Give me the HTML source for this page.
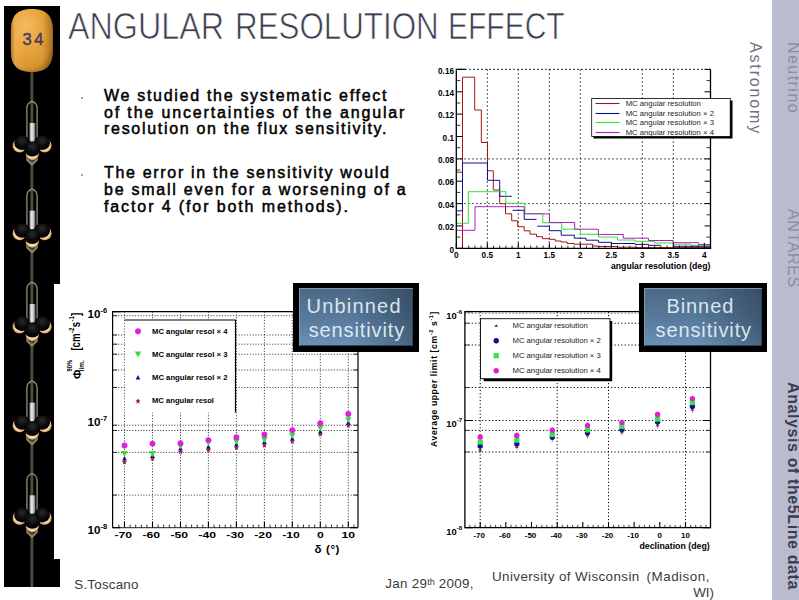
<!DOCTYPE html>
<html>
<head>
<meta charset="utf-8">
<title>Angular Resolution Effect</title>
<style>
html,body{margin:0;padding:0;background:#fff;}
body{width:799px;height:600px;position:relative;overflow:hidden;font-family:"Liberation Sans",sans-serif;}
.abs{position:absolute;}
.tw{-webkit-text-stroke:0.7px #fff;top:5.1px;font-size:36.2px;color:#3d3d50;white-space:nowrap;line-height:44px;transform-origin:0 0;}
.bul{left:104px;font-weight:normal;-webkit-text-stroke:0.5px #000;font-size:16px;line-height:17px;color:#000;white-space:nowrap;}
.dot{width:2px;height:2px;background:#888;border-radius:1px;}
.foot{font-size:13.4px;line-height:15.4px;color:#3a3a3a;white-space:nowrap;}
.vtxt{transform-origin:0 0;transform:rotate(90deg);white-space:nowrap;font-size:16px;line-height:16px;}
svg text{font-family:"Liberation Sans",sans-serif;}
.tl{font-size:8.2px;font-weight:bold;fill:#000;}
.lg{font-size:7.7px;fill:#1a1a1a;}
.lb{font-size:7px;font-weight:bold;fill:#000;}
.tb{font-size:8.6px;font-weight:bold;fill:#000;}
.tc{font-size:8px;font-weight:bold;fill:#000;}
.bx{background:#000;}
.bxi{background:linear-gradient(to right,rgba(20,30,45,0) 0%,rgba(20,30,45,0) 45%,rgba(20,30,45,0.38) 100%),linear-gradient(to bottom,#4d6a86 0%,#57799b 50%,#6a91b5 100%);box-shadow:inset 1px 1px 0 #7d95ab,inset -1px -1px 0 #2f4458;}
.bxt{color:rgba(236,247,252,0.9);font-size:20px;line-height:24.2px;text-align:left;white-space:nowrap;}
</style>
</head>
<body>
<!-- right sidebar -->
<div class="abs" style="left:772px;top:0;width:27px;height:600px;background:#b9bcd0;"></div>
<div class="abs vtxt" style="left:763.2px;top:41.5px;color:#70707f;letter-spacing:1.85px;">Astronomy</div>
<div class="abs vtxt" style="left:801.2px;top:42px;color:#8b8da1;letter-spacing:1.45px;">Neutrino</div>
<div class="abs vtxt" style="left:801.2px;top:208.5px;color:#8b8da1;letter-spacing:0.65px;">ANTARES</div>
<div class="abs vtxt" style="left:801.2px;top:382px;color:#3c3c50;font-weight:bold;letter-spacing:0.6px;">Analysis of the5Line data</div>

<!-- left black bar -->
<div class="abs" style="left:4px;top:6px;width:56px;height:278px;background:#000;"></div>
<div class="abs" style="left:4px;top:283px;width:50px;height:280px;background:#000;"></div>
<div class="abs" style="left:4px;top:559px;width:56px;height:28px;background:#000;"></div>
<svg class="abs" id="line" style="left:0;top:0;" width="64" height="600" viewBox="0 0 64 600">
<defs>
<radialGradient id="bg" cx="0.42" cy="0.36" r="0.75" fx="0.36" fy="0.24">
<stop offset="0" stop-color="#f3bb5e"/><stop offset="0.45" stop-color="#e9a63e"/><stop offset="0.8" stop-color="#d8942f"/><stop offset="1" stop-color="#8f5f18"/>
</radialGradient>
<linearGradient id="bh" x1="0" x2="1" y1="0" y2="0"><stop offset="0" stop-color="#7a4e10" stop-opacity="0.45"/><stop offset="0.1" stop-color="#f6c268" stop-opacity="0.35"/><stop offset="0.35" stop-color="#f6c268" stop-opacity="0"/><stop offset="0.75" stop-color="#a06a18" stop-opacity="0"/><stop offset="1" stop-color="#7a4e10" stop-opacity="0.55"/></linearGradient>
<linearGradient id="cy" x1="0" x2="1" y1="0" y2="0"><stop offset="0" stop-color="#7c7c7c"/><stop offset="0.4" stop-color="#f2f2f2"/><stop offset="0.7" stop-color="#bdbdbd"/><stop offset="1" stop-color="#6a6a6a"/></linearGradient>
<linearGradient id="rp" x1="0" x2="1" y1="0" y2="0"><stop offset="0" stop-color="#3a3528"/><stop offset="0.5" stop-color="#5e5746"/><stop offset="1" stop-color="#3a3528"/></linearGradient>
<radialGradient id="cr" cx="0.5" cy="0.5" r="0.5"><stop offset="0.62" stop-color="#f3e2b8"/><stop offset="0.9" stop-color="#dcae68"/><stop offset="1" stop-color="#6a4414"/></radialGradient>
<radialGradient id="sp" cx="0.5" cy="0.35" r="0.6"><stop offset="0" stop-color="#2a2a2a"/><stop offset="0.6" stop-color="#0c0c0c"/><stop offset="1" stop-color="#000"/></radialGradient>
<g id="st">
<path d="M32 101.2C29 102.5 26.9 104.5 26.9 108V160L32 165L37.1 160V108C37.1 104.5 35 102.5 32 101.2z" fill="none" stroke="#918c7c" stroke-width="1.3" stroke-linejoin="round"/>
<rect x="29.4" y="123" width="5.9" height="19.5" fill="url(#cy)"/>
<circle cx="19.6" cy="145.5" r="7.2" fill="url(#cr)"/><ellipse cx="22.2" cy="142.8" rx="8" ry="7.3" fill="url(#sp)"/>
<circle cx="44.6" cy="145.5" r="7.2" fill="url(#cr)"/><ellipse cx="42" cy="142.8" rx="8" ry="7.3" fill="url(#sp)"/>
<circle cx="32.3" cy="153.4" r="6.8" fill="url(#cr)"/><ellipse cx="32.3" cy="148.8" rx="8" ry="7.6" fill="url(#sp)"/>
<path d="M27.5 159L32 164.5L36.5 159" fill="none" stroke="#8b8676" stroke-width="1.2"/>
</g>
</defs>
<rect x="30.3" y="70" width="3.2" height="517" fill="url(#rp)"/>
<path d="M10.9 31C10.9 15.5 17.5 9 31.8 9C46.2 9 52.8 15.5 52.8 31V51C52.8 65.5 46.2 72.1 31.8 72.1C17.5 72.1 10.9 65.5 10.9 51Z" fill="url(#bg)"/>
<path d="M10.9 31C10.9 15.5 17.5 9 31.8 9C46.2 9 52.8 15.5 52.8 31V51C52.8 65.5 46.2 72.1 31.8 72.1C17.5 72.1 10.9 65.5 10.9 51Z" fill="url(#bh)"/>
<text x="34.2" y="44.8" text-anchor="middle" style="font:16.5px 'Liberation Sans',sans-serif;letter-spacing:2.6px" fill="#493a5a" stroke="#493a5a" stroke-width="0.45">34</text>
<use href="#st" y="0"/>
<use href="#st" y="87.7"/>
<use href="#st" y="181"/>
<use href="#st" y="279.7"/>
<use href="#st" y="372.3"/>
</svg>

<!-- title -->
<div class="abs tw" style="left:68.1px;transform:scaleX(0.892);">ANGULAR</div>
<div class="abs tw" style="left:235.4px;transform:scaleX(0.866);">RESOLUTION</div>
<div class="abs tw" style="left:448.2px;transform:scaleX(0.829);">EFFECT</div>

<!-- bullets -->
<div class="abs dot" style="left:81px;top:97px;"></div>
<div class="abs bul" style="top:86.7px;letter-spacing:1.70px;">We studied the systematic effect</div>
<div class="abs bul" style="top:103.7px;letter-spacing:1.85px;">of the uncertainties of the angular</div>
<div class="abs bul" style="top:120.2px;letter-spacing:1.70px;">resolution on the flux sensitivity.</div>
<div class="abs dot" style="left:81px;top:174px;"></div>
<div class="abs bul" style="top:163.7px;letter-spacing:1.68px;">The error in the sensitivity would</div>
<div class="abs bul" style="top:180.7px;letter-spacing:1.76px;">be small even for a worsening of a</div>
<div class="abs bul" style="top:197.7px;letter-spacing:1.89px;">factor 4 (for both methods).</div>

<!-- charts -->
<svg class="abs" id="c1" style="left:420px;top:55px;" width="320" height="230" viewBox="420 55 320 230">
<rect x="456.3" y="69.4" width="254.2" height="178.9" fill="#fff" stroke="none"/>
<line x1="487.3" y1="69.4" x2="487.3" y2="248.3" stroke="#000" stroke-width="1" stroke-dasharray="1.3 2.7"/>
<line x1="518.3" y1="69.4" x2="518.3" y2="248.3" stroke="#000" stroke-width="1" stroke-dasharray="1.3 2.7"/>
<line x1="549.3" y1="69.4" x2="549.3" y2="248.3" stroke="#000" stroke-width="1" stroke-dasharray="1.3 2.7"/>
<line x1="580.3" y1="69.4" x2="580.3" y2="248.3" stroke="#000" stroke-width="1" stroke-dasharray="1.3 2.7"/>
<line x1="642.3" y1="69.4" x2="642.3" y2="248.3" stroke="#000" stroke-width="1" stroke-dasharray="1.3 2.7"/>
<line x1="673.3" y1="69.4" x2="673.3" y2="248.3" stroke="#000" stroke-width="1" stroke-dasharray="1.3 2.7"/>
<line x1="456.3" y1="203.6" x2="710.5" y2="203.6" stroke="#000" stroke-width="1" stroke-dasharray="1.3 2.7"/>
<line x1="456.3" y1="158.9" x2="710.5" y2="158.9" stroke="#000" stroke-width="1" stroke-dasharray="1.3 2.7"/>
<path d="M456.3 172.2 L462.5 172.2 L462.5 77.2 L474.7 77.2 L474.7 110.0 L481.3 110.0 L481.3 142.5 L487.5 142.5 L487.5 170.8 L493.3 170.8 L493.3 190.0 L499.7 190.0 L499.7 203.7 L505.5 203.7 L505.5 213.8 L511.7 213.8 L511.7 220.8 L517.8 220.8 L517.8 226.7 L524.2 226.7 L524.2 230.8 L530.0 230.8 L530.0 234.2 L536.5 234.2 L536.5 236.7 L542.5 236.7 L542.5 238.7 L549.2 238.7 L549.2 239.3 L555.2 239.3 L555.2 241.0 L561.2 241.0 L561.2 242.0 L567.2 242.0 L567.2 243.5 L574.3 243.5 L574.3 244.2 L592.7 244.2 L592.7 246.0 L598.0 246.0 L598.0 246.5 L617.5 246.5 L617.5 247.2 L635.0 247.2 L635.0 247.6 L710.4 247.6" fill="none" stroke="#a01818" stroke-width="1.0" />
<path d="M462.5 172.2 L462.5 248.3" fill="none" stroke="#a01818" stroke-width="1.0" />
<path d="M456.3 210.8 L462.5 210.8 L462.5 163.0 L487.5 163.0 L487.5 180.3 L499.7 180.3 L499.7 196.3 L511.7 196.3" fill="none" stroke="#101090" stroke-width="1.0" />
<path d="M512.5 210.3 L524.2 210.3 L524.2 219.4 L536.5 219.4" fill="none" stroke="#101090" stroke-width="1.0" />
<path d="M537.2 226.2 L549.5 226.2 L549.5 230.7 L561.2 230.7 L561.2 235.2 L574.3 235.2 L574.3 238.2 L586.0 238.2 L586.0 240.2 L598.4 240.2 L598.4 242.3 L611.5 242.3 L611.5 243.5 L635.0 243.5 L635.0 244.4 L648.5 244.4 L648.5 245.3 L660.5 245.3" fill="none" stroke="#101090" stroke-width="1.0" />
<path d="M673.2 246.3 L710.4 246.3" fill="none" stroke="#101090" stroke-width="1.0" />
<path d="M456.3 223.3 L468.3 223.3 L468.3 191.7 L505.8 191.7 L505.8 203.3 L525.0 203.3 L525.0 213.5 L542.8 213.5 L542.8 222.8 L561.7 222.8 L561.7 229.2 L580.4 229.2 L580.4 234.2 L598.4 234.2 L598.4 237.0 L617.5 237.0 L617.5 240.0 L635.0 240.0 L635.0 241.3 L654.5 241.3 L654.5 243.0 L673.2 243.0 L673.2 244.2 L690.5 244.2 L690.5 245.3 L710.4 245.3" fill="none" stroke="#30e030" stroke-width="1.0" />
<path d="M456.3 230.3 L475.0 230.3 L475.0 206.7 L524.2 206.7 L524.2 213.9 L549.5 213.9 L549.5 222.5 L574.7 222.5 L574.7 229.2 L598.4 229.2 L598.4 234.5 L623.3 234.5 L623.3 238.2 L648.5 238.2 L648.5 240.5 L673.2 240.5 L673.2 242.7 L698.7 242.7 L698.7 244.5 L710.4 244.5" fill="none" stroke="#b020c0" stroke-width="1.0" />
<path d="M465.3 69.4H456.3V248.3H710.5V69.4" fill="none" stroke="#000" stroke-width="1.3"/>
<path d="M465.3 69.4H710.5" fill="none" stroke="#000" stroke-width="1.2" stroke-dasharray="1.3 2.7"/>
<path d="M456.3 248.3v-5.5M487.3 248.3v-5.5M518.3 248.3v-5.5M549.3 248.3v-5.5M580.3 248.3v-5.5M611.3 248.3v-5.5M642.3 248.3v-5.5M673.3 248.3v-5.5M704.3 248.3v-5.5M456.3 248.3h6M710.5 248.3h-6M456.3 225.9h6M710.5 225.9h-6M456.3 203.6h6M710.5 203.6h-6M456.3 181.2h6M710.5 181.2h-6M456.3 158.9h6M710.5 158.9h-6M456.3 136.5h6M710.5 136.5h-6M456.3 114.1h6M710.5 114.1h-6M456.3 91.8h6M710.5 91.8h-6M456.3 69.4h6M710.5 69.4h-6" stroke="#000" stroke-width="1" fill="none"/>
<path d="M462.5 248.3v-2.8M468.7 248.3v-2.8M474.9 248.3v-2.8M481.1 248.3v-2.8M493.5 248.3v-2.8M499.7 248.3v-2.8M505.9 248.3v-2.8M512.1 248.3v-2.8M524.5 248.3v-2.8M530.7 248.3v-2.8M536.9 248.3v-2.8M543.1 248.3v-2.8M555.5 248.3v-2.8M561.7 248.3v-2.8M567.9 248.3v-2.8M574.1 248.3v-2.8M586.5 248.3v-2.8M592.7 248.3v-2.8M598.9 248.3v-2.8M605.1 248.3v-2.8M617.5 248.3v-2.8M623.7 248.3v-2.8M629.9 248.3v-2.8M636.1 248.3v-2.8M648.5 248.3v-2.8M654.7 248.3v-2.8M660.9 248.3v-2.8M667.1 248.3v-2.8M679.5 248.3v-2.8M685.7 248.3v-2.8M691.9 248.3v-2.8M698.1 248.3v-2.8M710.5 248.3v-2.8M456.3 237.1h4M710.5 237.1h-4M456.3 214.8h4M710.5 214.8h-4M456.3 192.4h4M710.5 192.4h-4M456.3 170h4M710.5 170h-4M456.3 147.7h4M710.5 147.7h-4M456.3 125.3h4M710.5 125.3h-4M456.3 103h4M710.5 103h-4M456.3 80.6h4M710.5 80.6h-4" stroke="#000" stroke-width="1" fill="none" opacity="0.8"/>
<text x="454" y="73.6" text-anchor="end" class="tl">0.16</text>
<text x="454" y="96.0" text-anchor="end" class="tl">0.14</text>
<text x="454" y="118.3" text-anchor="end" class="tl">0.12</text>
<text x="454" y="140.7" text-anchor="end" class="tl">0.1</text>
<text x="454" y="163.1" text-anchor="end" class="tl">0.08</text>
<text x="454" y="185.4" text-anchor="end" class="tl">0.06</text>
<text x="454" y="207.8" text-anchor="end" class="tl">0.04</text>
<text x="454" y="230.1" text-anchor="end" class="tl">0.02</text>
<text x="454" y="252.5" text-anchor="end" class="tl">0</text>
<text x="456.3" y="258.1" text-anchor="middle" class="tl">0</text>
<text x="487.3" y="258.1" text-anchor="middle" class="tl">0.5</text>
<text x="518.3" y="258.1" text-anchor="middle" class="tl">1</text>
<text x="549.3" y="258.1" text-anchor="middle" class="tl">1.5</text>
<text x="580.3" y="258.1" text-anchor="middle" class="tl">2</text>
<text x="611.3" y="258.1" text-anchor="middle" class="tl">2.5</text>
<text x="642.3" y="258.1" text-anchor="middle" class="tl">3</text>
<text x="673.3" y="258.1" text-anchor="middle" class="tl">3.5</text>
<text x="704.3" y="258.1" text-anchor="middle" class="tl">4</text>
<text x="710.4" y="269.3" text-anchor="end" class="tl" style="font-size:8.7px">angular resolution (deg)</text>
<rect x="593.5" y="100.5" width="139" height="38" fill="#000"/>
<rect x="591.7" y="98.5" width="138.5" height="38" fill="#fff" stroke="#000" stroke-width="0.8"/>
<line x1="595.5" y1="103.5" x2="619.5" y2="103.5" stroke="#a01818" stroke-width="1.1"/>
<text x="625.7" y="105.9" class="lg">MC angular resolution</text>
<line x1="595.5" y1="113.5" x2="619.5" y2="113.5" stroke="#101090" stroke-width="1.1"/>
<text x="625.7" y="115.9" class="lg">MC angular resolution &#215; 2</text>
<line x1="595.5" y1="122.5" x2="619.5" y2="122.5" stroke="#30e030" stroke-width="1.1"/>
<text x="625.7" y="124.9" class="lg">MC angular resolution &#215; 3</text>
<line x1="595.5" y1="132.5" x2="619.5" y2="132.5" stroke="#b020c0" stroke-width="1.1"/>
<text x="625.7" y="134.9" class="lg">MC angular resolution &#215; 4</text>
</svg>
<svg class="abs" id="c2" style="left:60px;top:290px;" width="365" height="275" viewBox="60 290 365 275">
<rect x="112.6" y="311.6" width="245.4" height="216.0" fill="#fff"/>
<path d="M124.5 311.6V527.6M152.5 311.6V527.6M180.5 311.6V527.6M208.4 311.6V527.6M236.4 311.6V527.6M264.4 311.6V527.6M292.3 311.6V527.6M320.3 311.6V527.6M348.3 311.6V527.6M112.6 315.7H358.0M112.6 335H358.0M112.6 344.2H358.0M112.6 354.2H358.0M112.6 370H358.0M112.6 387.5H358.0M112.6 425.2H358.0M112.6 430.5H358.0M112.6 452.4H358.0M112.6 495.1H358.0" stroke="#000" stroke-width="1" stroke-dasharray="1.1 1.7" fill="none" opacity="0.75"/>
<path d="M112.6 527.6V311.6H358.0V527.6" fill="none" stroke="#000" stroke-width="1.2"/>
<path d="M112.6 527.6H358.0" fill="none" stroke="#000" stroke-width="1.2" opacity="0.7"/>
<path d="M124.5 527.6v-6M152.5 527.6v-6M180.5 527.6v-6M208.4 527.6v-6M236.4 527.6v-6M264.4 527.6v-6M292.3 527.6v-6M320.3 527.6v-6M348.3 527.6v-6M112.6 311.6h8M358.0 311.6h-8M112.6 527.6h8M358.0 527.6h-8" stroke="#000" stroke-width="1.1" fill="none"/>
<path d="M118.9 527.6v-3M130.1 527.6v-3M135.7 527.6v-3M141.3 527.6v-3M146.9 527.6v-3M158.1 527.6v-3M163.7 527.6v-3M169.3 527.6v-3M174.9 527.6v-3M186 527.6v-3M191.6 527.6v-3M197.2 527.6v-3M202.8 527.6v-3M214 527.6v-3M219.6 527.6v-3M225.2 527.6v-3M230.8 527.6v-3M242 527.6v-3M247.6 527.6v-3M253.2 527.6v-3M258.8 527.6v-3M270 527.6v-3M275.5 527.6v-3M281.1 527.6v-3M286.7 527.6v-3M297.9 527.6v-3M303.5 527.6v-3M309.1 527.6v-3M314.7 527.6v-3M325.9 527.6v-3M331.5 527.6v-3M337.1 527.6v-3M342.7 527.6v-3M353.9 527.6v-3M112.6 315.7h4.5M358.0 315.7h-4.5M112.6 335h4.5M358.0 335h-4.5M112.6 344.2h4.5M358.0 344.2h-4.5M112.6 354.2h4.5M358.0 354.2h-4.5M112.6 370h4.5M358.0 370h-4.5M112.6 387.5h4.5M358.0 387.5h-4.5M112.6 425.2h4.5M358.0 425.2h-4.5M112.6 430.5h4.5M358.0 430.5h-4.5M112.6 452.4h4.5M358.0 452.4h-4.5M112.6 495.1h4.5M358.0 495.1h-4.5" stroke="#000" stroke-width="1" fill="none" opacity="0.8"/>
<rect x="124.8" y="320" width="110.7" height="92.5" fill="#fff"/>
<path d="M124.5 320H235.5V412.5" fill="none" stroke="#000" stroke-width="1.2"/>
<circle cx="138" cy="331.2" r="2.95" fill="#e020e0"/>
<text x="152" y="333.8" class="lb" textLength="75.5" lengthAdjust="spacingAndGlyphs">MC angular resol &#215; 4</text>
<path d="M134.8 351.6h6.4l-3.2 5.8z" fill="#30e030"/>
<text x="152" y="356.8" class="lb" textLength="75.5" lengthAdjust="spacingAndGlyphs">MC angular resol &#215; 3</text>
<path d="M135.7 379.6h4.6l-2.3 -4.6z" fill="#101090"/>
<text x="152" y="380.1" class="lb" textLength="75.5" lengthAdjust="spacingAndGlyphs">MC angular resol &#215; 2</text>
<path d="M138 398.5l1.1 1.8h1.5l-1.3 1.3l0.2 2.2l-1.5 -1.3l-1.5 1.3l0.2 -2.2l-1.3 -1.3h1.5z" fill="#a02050"/>
<text x="152" y="403.3" class="lb" textLength="62" lengthAdjust="spacingAndGlyphs">MC angular resol</text>
<path d="M124.5 459.2l1.1 1.8h1.5l-1.3 1.3l0.2 2.2l-1.5 -1.3l-1.5 1.3l0.2 -2.2l-1.3 -1.3h1.5z" fill="#a02050"/>
<path d="M122.2 460.4h4.6l-2.3 -4.6z" fill="#101090"/>
<path d="M121.3 451.1h6.4l-3.2 5.8z" fill="#30e030"/>
<circle cx="124.5" cy="445.5" r="2.95" fill="#e020e0"/>
<path d="M152.5 455.7l1.1 1.8h1.5l-1.3 1.3l0.2 2.2l-1.5 -1.3l-1.5 1.3l0.2 -2.2l-1.3 -1.3h1.5z" fill="#a02050"/>
<path d="M150.2 458.1h4.6l-2.3 -4.6z" fill="#101090"/>
<path d="M149.3 451.1h6.4l-3.2 5.8z" fill="#30e030"/>
<circle cx="152.5" cy="443.6" r="2.95" fill="#e020e0"/>
<path d="M180.5 449.1l1.1 1.8h1.5l-1.3 1.3l0.2 2.2l-1.5 -1.3l-1.5 1.3l0.2 -2.2l-1.3 -1.3h1.5z" fill="#a02050"/>
<path d="M178.2 450.6h4.6l-2.3 -4.6z" fill="#101090"/>
<path d="M177.3 443.4h6.4l-3.2 5.8z" fill="#30e030"/>
<circle cx="180.5" cy="443.2" r="2.95" fill="#e020e0"/>
<path d="M208.4 447.3l1.1 1.8h1.5l-1.3 1.3l0.2 2.2l-1.5 -1.3l-1.5 1.3l0.2 -2.2l-1.3 -1.3h1.5z" fill="#a02050"/>
<path d="M206.1 448.8h4.6l-2.3 -4.6z" fill="#101090"/>
<path d="M205.2 440.1h6.4l-3.2 5.8z" fill="#30e030"/>
<circle cx="208.4" cy="440.1" r="2.95" fill="#e020e0"/>
<path d="M236.4 445l1.1 1.8h1.5l-1.3 1.3l0.2 2.2l-1.5 -1.3l-1.5 1.3l0.2 -2.2l-1.3 -1.3h1.5z" fill="#a02050"/>
<path d="M234.1 446.4h4.6l-2.3 -4.6z" fill="#101090"/>
<path d="M233.2 438.9h6.4l-3.2 5.8z" fill="#30e030"/>
<circle cx="236.4" cy="437.3" r="2.95" fill="#e020e0"/>
<path d="M264.4 442.6l1.1 1.8h1.5l-1.3 1.3l0.2 2.2l-1.5 -1.3l-1.5 1.3l0.2 -2.2l-1.3 -1.3h1.5z" fill="#a02050"/>
<path d="M262.1 444.1h4.6l-2.3 -4.6z" fill="#101090"/>
<path d="M261.2 437.1h6.4l-3.2 5.8z" fill="#30e030"/>
<circle cx="264.4" cy="434.5" r="2.95" fill="#e020e0"/>
<path d="M292.3 438.6l1.1 1.8h1.5l-1.3 1.3l0.2 2.2l-1.5 -1.3l-1.5 1.3l0.2 -2.2l-1.3 -1.3h1.5z" fill="#a02050"/>
<path d="M290 440.6h4.6l-2.3 -4.6z" fill="#101090"/>
<path d="M289.1 432.9h6.4l-3.2 5.8z" fill="#30e030"/>
<circle cx="292.3" cy="430.3" r="2.95" fill="#e020e0"/>
<path d="M320.3 431.6l1.1 1.8h1.5l-1.3 1.3l0.2 2.2l-1.5 -1.3l-1.5 1.3l0.2 -2.2l-1.3 -1.3h1.5z" fill="#a02050"/>
<path d="M318 433.6h4.6l-2.3 -4.6z" fill="#101090"/>
<path d="M317.1 425.4h6.4l-3.2 5.8z" fill="#30e030"/>
<circle cx="320.3" cy="423.3" r="2.95" fill="#e020e0"/>
<path d="M348.3 422.8l1.1 1.8h1.5l-1.3 1.3l0.2 2.2l-1.5 -1.3l-1.5 1.3l0.2 -2.2l-1.3 -1.3h1.5z" fill="#a02050"/>
<path d="M346 424.7h4.6l-2.3 -4.6z" fill="#101090"/>
<path d="M345.1 417.2h6.4l-3.2 5.8z" fill="#30e030"/>
<circle cx="348.3" cy="414" r="2.95" fill="#e020e0"/>
<g transform="scale(1.42 1)">
<text x="86.8" y="538.2" text-anchor="middle" class="tb">-70</text>
<text x="106.5" y="538.2" text-anchor="middle" class="tb">-60</text>
<text x="126.2" y="538.2" text-anchor="middle" class="tb">-50</text>
<text x="145.9" y="538.2" text-anchor="middle" class="tb">-40</text>
<text x="165.6" y="538.2" text-anchor="middle" class="tb">-30</text>
<text x="185.3" y="538.2" text-anchor="middle" class="tb">-20</text>
<text x="205.0" y="538.2" text-anchor="middle" class="tb">-10</text>
<text x="225.6" y="538.2" text-anchor="middle" class="tb">0</text>
<text x="245.3" y="538.2" text-anchor="middle" class="tb">10</text>
</g>
<g transform="scale(1.13 1)">
<text x="77.5" y="317.6" class="tb" style="font-size:10.3px">10<tspan dy="-4.4" style="font-size:6.6px">-6</tspan></text>
<text x="77.5" y="425.6" class="tb" style="font-size:10.3px">10<tspan dy="-4.4" style="font-size:6.6px">-7</tspan></text>
<text x="77.5" y="533.6" class="tb" style="font-size:10.3px">10<tspan dy="-4.4" style="font-size:6.6px">-8</tspan></text>
</g>
<text x="314.6" y="552.6" class="tb" style="font-size:11.5px;letter-spacing:0.6px">&#948; (&#176;)</text>
<g transform="translate(80.8 379) rotate(-90)" class="tb"><text x="0" y="0" style="font-size:11.5px">&#934;</text><text x="7.6" y="-8.6" style="font-size:6.3px" textLength="11.6" lengthAdjust="spacingAndGlyphs">90%</text><text x="7.6" y="3.2" style="font-size:6.3px" textLength="11.2" lengthAdjust="spacingAndGlyphs">lim.</text><g transform="scale(0.8 1)"><text x="35.5" y="-0.4" style="font-size:12px">[cm<tspan dy="-6.5" dx="0.6" style="font-size:7.6px">-2</tspan><tspan dy="6.5" dx="0.6">s</tspan><tspan dy="-6.5" dx="0.4" style="font-size:7.6px">-1</tspan><tspan dy="6.5">]</tspan></text></g></g>
</svg>
<svg class="abs" id="c3" style="left:425px;top:290px;" width="345" height="275" viewBox="425 290 345 275">
<rect x="464.9" y="311.6" width="245.6" height="216.0" fill="#fff"/>
<path d="M480.2 311.6V527.6M557.2 311.6V527.6M608.5 311.6V527.6M685.5 311.6V527.6M464.9 323.2H710.5M464.9 345H710.5M464.9 387.5H710.5M464.9 420.5H710.5M464.9 430.4H710.5M464.9 452H710.5" stroke="#000" stroke-width="1" stroke-dasharray="1.2 2.2" fill="none"/>
<path d="M464.9 313.40000000000003H710.5" stroke="#000" stroke-width="0.8" stroke-dasharray="1.2 2.2" fill="none" opacity="0.7"/>
<rect x="464.9" y="311.6" width="245.6" height="216.0" fill="none" stroke="#000" stroke-width="1.3"/>
<path d="M480.2 527.6v-5.5M505.8 527.6v-5.5M531.5 527.6v-5.5M557.2 527.6v-5.5M582.8 527.6v-5.5M608.5 527.6v-5.5M634.1 527.6v-5.5M659.8 527.6v-5.5M685.5 527.6v-5.5M464.9 311.6h8M710.5 311.6h-8M464.9 420.5h8M710.5 420.5h-8M464.9 527.6h8M710.5 527.6h-8" stroke="#000" stroke-width="1.1" fill="none"/>
<path d="M469.9 527.6v-2.8M475 527.6v-2.8M485.3 527.6v-2.8M490.4 527.6v-2.8M495.6 527.6v-2.8M500.7 527.6v-2.8M511 527.6v-2.8M516.1 527.6v-2.8M521.2 527.6v-2.8M526.4 527.6v-2.8M536.6 527.6v-2.8M541.8 527.6v-2.8M546.9 527.6v-2.8M552 527.6v-2.8M562.3 527.6v-2.8M567.4 527.6v-2.8M572.6 527.6v-2.8M577.7 527.6v-2.8M588 527.6v-2.8M593.1 527.6v-2.8M598.2 527.6v-2.8M603.3 527.6v-2.8M613.6 527.6v-2.8M618.7 527.6v-2.8M623.9 527.6v-2.8M629 527.6v-2.8M639.3 527.6v-2.8M644.4 527.6v-2.8M649.5 527.6v-2.8M654.7 527.6v-2.8M664.9 527.6v-2.8M670.1 527.6v-2.8M675.2 527.6v-2.8M680.3 527.6v-2.8M690.6 527.6v-2.8M695.7 527.6v-2.8M700.9 527.6v-2.8M706 527.6v-2.8M464.9 323.2h4.5M710.5 323.2h-4.5M464.9 345h4.5M710.5 345h-4.5M464.9 387.5h4.5M710.5 387.5h-4.5M464.9 430.4h4.5M710.5 430.4h-4.5M464.9 452h4.5M710.5 452h-4.5" stroke="#000" stroke-width="1" fill="none" opacity="0.7"/>
<path d="M483.7 379H610V321H612.2V381.2H483.7z" fill="#000"/>
<rect x="480.5" y="318.7" width="129.5" height="60" fill="#fff" stroke="#000" stroke-width="0.9"/>
<path d="M494.4 327.1h3.6l-1.8 -3.2z" fill="#b01830"/>
<text x="512.5" y="328.4" class="lg">MC angular resolution</text>
<circle cx="496.2" cy="340.7" r="2.7" fill="#1010a0"/>
<text x="512.5" y="343.4" class="lg">MC angular resolution &#215; 2</text>
<rect x="493.6" y="353.1" width="5.2" height="5.2" fill="#30e840"/>
<text x="512.5" y="358.4" class="lg">MC angular resolution &#215; 3</text>
<circle cx="496.2" cy="370.7" r="2.7" fill="#e020d0"/>
<text x="512.5" y="373.4" class="lg">MC angular resolution &#215; 4</text>
<path d="M480.2 433.9V453" stroke="#1010a0" stroke-width="0.8" opacity="0.6"/>
<path d="M478.4 450.9h3.6l-1.8 -3.2z" fill="#b01830"/>
<circle cx="480.2" cy="446" r="2.7" fill="#1010a0"/>
<rect x="477.6" y="439.4" width="5.2" height="5.2" fill="#30e840"/>
<circle cx="480.2" cy="436.9" r="2.7" fill="#e020d0"/>
<path d="M516.8 432.5V450.2" stroke="#1010a0" stroke-width="0.8" opacity="0.6"/>
<path d="M515 448.1h3.6l-1.8 -3.2z" fill="#b01830"/>
<circle cx="516.8" cy="443.9" r="2.7" fill="#1010a0"/>
<rect x="514.2" y="437.5" width="5.2" height="5.2" fill="#30e840"/>
<circle cx="516.8" cy="435.5" r="2.7" fill="#e020d0"/>
<path d="M552.3 427.3V442.2" stroke="#1010a0" stroke-width="0.8" opacity="0.6"/>
<path d="M550.5 440.1h3.6l-1.8 -3.2z" fill="#b01830"/>
<circle cx="552.3" cy="436.9" r="2.7" fill="#1010a0"/>
<rect x="549.7" y="431.9" width="5.2" height="5.2" fill="#30e840"/>
<circle cx="552.3" cy="430.3" r="2.7" fill="#e020d0"/>
<path d="M587.5 422.4V438.5" stroke="#1010a0" stroke-width="0.8" opacity="0.6"/>
<path d="M585.7 436.4h3.6l-1.8 -3.2z" fill="#b01830"/>
<circle cx="587.5" cy="432.7" r="2.7" fill="#1010a0"/>
<rect x="584.9" y="427.3" width="5.2" height="5.2" fill="#30e840"/>
<circle cx="587.5" cy="425.4" r="2.7" fill="#e020d0"/>
<path d="M621.9 419.6V435.4" stroke="#1010a0" stroke-width="0.8" opacity="0.6"/>
<path d="M620.1 433.3h3.6l-1.8 -3.2z" fill="#b01830"/>
<circle cx="621.9" cy="429.5" r="2.7" fill="#1010a0"/>
<rect x="619.3" y="423.9" width="5.2" height="5.2" fill="#30e840"/>
<circle cx="621.9" cy="422.6" r="2.7" fill="#e020d0"/>
<path d="M657.6 411.5V428.5" stroke="#1010a0" stroke-width="0.8" opacity="0.6"/>
<path d="M655.8 426.4h3.6l-1.8 -3.2z" fill="#b01830"/>
<circle cx="657.6" cy="422" r="2.7" fill="#1010a0"/>
<rect x="655" y="416.4" width="5.2" height="5.2" fill="#30e840"/>
<circle cx="657.6" cy="414.5" r="2.7" fill="#e020d0"/>
<path d="M692.4 395.6V412.9" stroke="#1010a0" stroke-width="0.8" opacity="0.6"/>
<path d="M690.6 410.8h3.6l-1.8 -3.2z" fill="#b01830"/>
<circle cx="692.4" cy="406.4" r="2.7" fill="#1010a0"/>
<rect x="689.8" y="399.9" width="5.2" height="5.2" fill="#30e840"/>
<circle cx="692.4" cy="398.6" r="2.7" fill="#e020d0"/>
<text x="479.2" y="537.8" text-anchor="middle" class="tc">-70</text>
<text x="504.8" y="537.8" text-anchor="middle" class="tc">-60</text>
<text x="530.5" y="537.8" text-anchor="middle" class="tc">-50</text>
<text x="556.2" y="537.8" text-anchor="middle" class="tc">-40</text>
<text x="581.8" y="537.8" text-anchor="middle" class="tc">-30</text>
<text x="607.5" y="537.8" text-anchor="middle" class="tc">-20</text>
<text x="633.1" y="537.8" text-anchor="middle" class="tc">-10</text>
<text x="659.8" y="537.8" text-anchor="middle" class="tc">0</text>
<text x="685.5" y="537.8" text-anchor="middle" class="tc">10</text>
<text x="446.3" y="318.6" class="tc" style="font-size:9.4px">10<tspan dy="-4.2" style="font-size:6.2px">-6</tspan></text>
<text x="446.3" y="426.6" class="tc" style="font-size:9.4px">10<tspan dy="-4.2" style="font-size:6.2px">-7</tspan></text>
<text x="446.3" y="534.6" class="tc" style="font-size:9.4px">10<tspan dy="-4.2" style="font-size:6.2px">-8</tspan></text>
<text x="709.8" y="549.3" text-anchor="end" class="tc" style="font-size:8.8px">declination (deg)</text>
<g transform="translate(436.8 447) rotate(-90)"><text x="0" y="0" class="tc" style="font-size:8.6px" textLength="135.5" lengthAdjust="spacing">Average upper limit [cm<tspan dy="-3.5" style="font-size:5.6px">-2</tspan><tspan dy="3.5"> s</tspan><tspan dy="-3.5" style="font-size:5.6px">-1</tspan><tspan dy="3.5">]</tspan></text></g>
</svg>

<!-- label boxes -->
<div class="abs bx" style="left:293px;top:283px;width:126px;height:69px;"></div>
<div class="abs bxi" style="left:299px;top:288px;width:114px;height:58px;"></div>
<div class="abs bxt" style="left:306.5px;top:294px;letter-spacing:1.2px;">Unbinned</div>
<div class="abs bxt" style="left:308.7px;top:318.3px;letter-spacing:0.88px;">sensitivity</div>
<div class="abs bx" style="left:639px;top:283px;width:128px;height:69px;"></div>
<div class="abs bxi" style="left:644px;top:288px;width:118px;height:58px;"></div>
<div class="abs bxt" style="left:666.5px;top:294px;letter-spacing:0.9px;">Binned</div>
<div class="abs bxt" style="left:655.6px;top:318.3px;letter-spacing:0.88px;">sensitivity</div>

<!-- footer -->
<div class="abs foot" style="left:74.3px;top:576.6px;letter-spacing:0.2px;">S.Toscano</div>
<div class="abs foot" style="left:385.2px;top:575.6px;letter-spacing:0.3px;">Jan 29<span style="font-size:9px;position:relative;top:-3px;letter-spacing:0;">th</span> 2009,</div>
<div class="abs foot" style="left:492px;top:568.7px;letter-spacing:0.4px;">University of Wisconsin</div>
<div class="abs foot" style="left:646.6px;top:568.7px;letter-spacing:0.5px;">(Madison,</div>
<div class="abs foot" style="left:693.2px;top:585.4px;letter-spacing:0;">WI)</div>
</body>
</html>
